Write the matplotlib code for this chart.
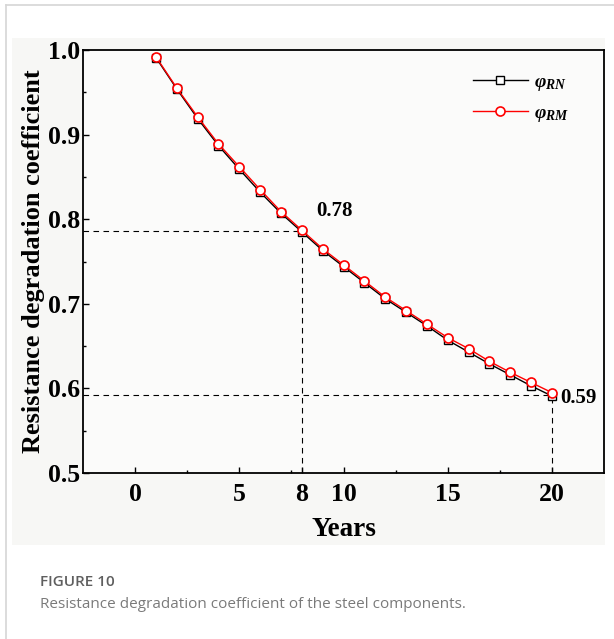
import numpy as np
import matplotlib.pyplot as plt
from matplotlib.patches import Rectangle
from matplotlib.lines import Line2D

plt.rcParams["mathtext.fontset"] = "custom"
plt.rcParams["mathtext.it"] = "Liberation Serif:italic:bold"
plt.rcParams["mathtext.rm"] = "Liberation Serif:bold"

years = list(range(1, 21))
phi_rn = [0.991, 0.954, 0.919, 0.887, 0.859, 0.832, 0.807, 0.785, 0.763, 0.744,
          0.725, 0.706, 0.690, 0.674, 0.657, 0.643, 0.629, 0.616, 0.603, 0.591]
phi_rm = [0.992, 0.955, 0.921, 0.889, 0.862, 0.835, 0.809, 0.787, 0.765, 0.746,
          0.727, 0.708, 0.692, 0.676, 0.660, 0.647, 0.632, 0.619, 0.607, 0.595]
x_ticks = [0, 5, 8, 10, 15, 20]
y_ticks = [0.5, 0.6, 0.7, 0.8, 0.9, 1.0]
marks = [8, 20]

W, H = 614, 639
fig = plt.figure(figsize=(W / 100, H / 100), dpi=100)
fig.patch.set_facecolor("white")

# page frame lines and light chart background
fig.add_artist(Line2D([6 / W, 1], [1 - 5 / H, 1 - 5 / H], color="#d6d6d6", lw=1.2))
fig.add_artist(Line2D([6 / W, 6 / W], [0, 1 - 5 / H], color="#d6d6d6", lw=1.2))
fig.add_artist(Rectangle((12 / W, 1 - 545 / H), 593 / W, 507 / H,
                         facecolor="#f7f7f5", edgecolor="none", zorder=0))

ax = fig.add_axes([83 / W, 1 - 473 / H, 521 / W, 423 / H])
ax.set_facecolor("#fbfbfa")
serif = "Liberation Serif"

ax.plot(years, phi_rn, color="black", lw=1.0, marker="s", ms=5.5,
        mfc="white", mec="black", mew=1.0, label=r"$\varphi_{RN}$", zorder=3)
ax.plot(years, phi_rm, color="red", lw=1.0, marker="o", ms=6.5,
        mfc="white", mec="red", mew=1.2, label=r"$\varphi_{RM}$", zorder=4)

for xv in marks:
    yv = phi_rn[years.index(xv)] + 0.001
    ax.plot([-2.5, xv], [yv, yv], ls=(0, (5, 4)), color="black", lw=0.8, zorder=2)
    ax.plot([xv, xv], [0.5, yv], ls=(0, (5, 4)), color="black", lw=0.8, zorder=2)

ax.text(8.7, 0.804, "0.78", fontsize=15, fontweight="bold", family=serif)
ax.text(20.4, 0.583, "0.59", fontsize=15, fontweight="bold", family=serif)

ax.set_xlim(-2.5, 22.5)
ax.set_ylim(0.5, 1.0)
ax.set_xticks(x_ticks)
ax.set_xticks([2.5, 7.5, 12.5, 17.5], minor=True)
ax.set_yticks(y_ticks)
ax.set_yticks([0.55, 0.65, 0.75, 0.85, 0.95], minor=True)
ax.tick_params(which="both", direction="in", top=False, right=False)
ax.tick_params(which="major", length=4, width=1)
ax.tick_params(which="minor", length=2.5, width=1)
ax.tick_params(axis="x", pad=7)
ax.tick_params(axis="y", pad=2)
for lab in ax.get_xticklabels() + ax.get_yticklabels():
    lab.set_fontfamily(serif)
    lab.set_fontweight("bold")
    lab.set_fontsize(18.5)
for sp in ax.spines.values():
    sp.set_linewidth(1.3)

ax.set_xlabel("Years", fontsize=19.5, fontweight="bold", family=serif, labelpad=8)
ax.set_ylabel("Resistance degradation coefficient", fontsize=19,
              fontweight="bold", family=serif)
ax.yaxis.set_label_coords(-0.073, 0.5)

ax.legend(loc="upper left", bbox_to_anchor=(0.749, 0.945), frameon=False,
          borderpad=0, borderaxespad=0, handlelength=2.8, handletextpad=0.3,
          labelspacing=0.6, prop={"family": serif, "size": 14, "weight": "bold"})

fig.text(40 / W, 1 - 582 / H, "FIGURE 10", fontsize=11, color="#5f5f5f",
         family="Open Sans", fontweight="semibold", va="center")
fig.text(40 / W, 1 - 604 / H, "Resistance degradation coefficient of the steel components.",
         fontsize=11, color="#7a7a7a", family="Open Sans", va="center")

fig.savefig("out.png", dpi=100)
